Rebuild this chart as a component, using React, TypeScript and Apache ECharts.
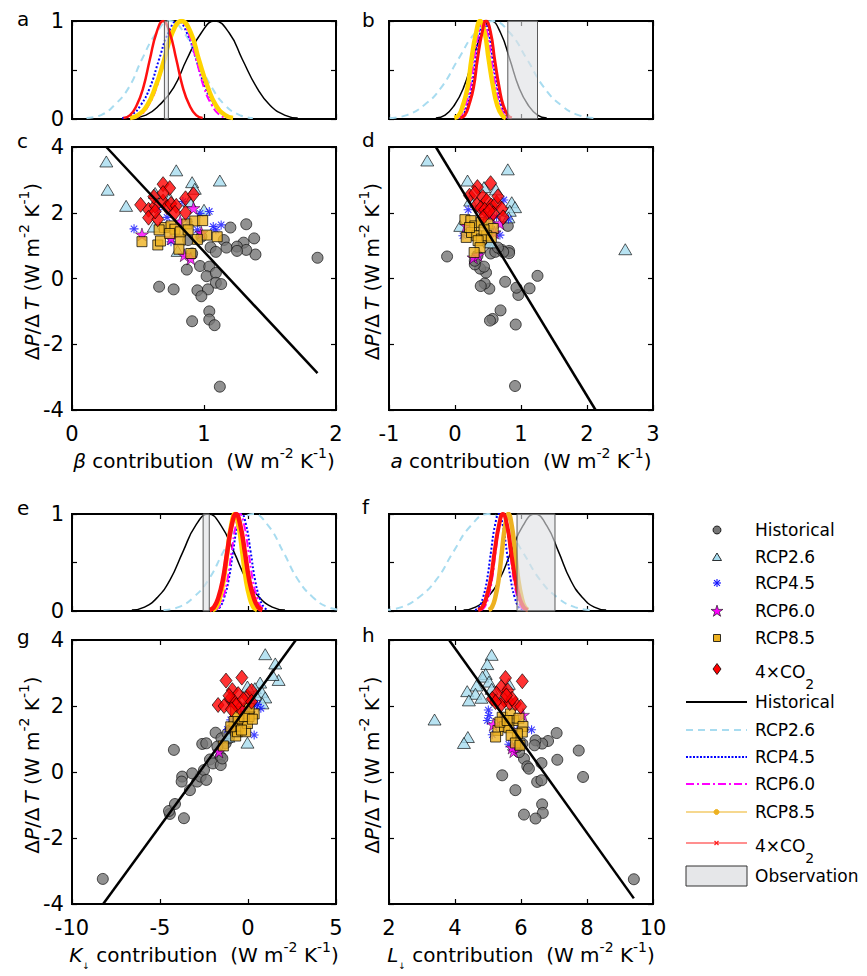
import React, { useEffect, useRef } from 'react';
import * as echarts from 'echarts';

const FONT = 'DejaVu Sans';

// ---------------- labels ----------------
const scenarioNames = ['Historical', 'RCP2.6', 'RCP4.5', 'RCP6.0', 'RCP8.5', '4×CO2'];
const observationName = 'Observation';
const panelLetters = ['a', 'b', 'c', 'd', 'e', 'f', 'g', 'h'];

// axis ranges [min, max, interval]
const betaRange = [0, 2, 1];
const aRange = [-1, 3, 1];
const kRange = [-10, 5, 5];
const lRange = [2, 10, 2];
const dpdtRange = [-4, 4, 2];
const densityRange = [0, 1, 0.5];

// ---------------- density curves (peak-normalised) ----------------
// heights at which each curve's x-crossings were read
const densityLevels = [0.01, 0.04, 0.14, 0.32, 0.61, 0.88, 1, 0.88, 0.61, 0.32, 0.14, 0.04, 0.01];

const aHistorical = [0.45, 0.56, 0.66, 0.77, 0.87, 0.98, 1.08, 1.19, 1.29, 1.4, 1.5, 1.61, 1.71];
const aRCP26 = [0.11, 0.22, 0.32, 0.43, 0.53, 0.64, 0.74, 0.85, 0.95, 1.06, 1.16, 1.27, 1.37];
const aRCP45 = [0.38, 0.45, 0.52, 0.59, 0.66, 0.73, 0.8, 0.87, 0.94, 1.01, 1.08, 1.15, 1.22];
const aRCP60 = [0.46, 0.52, 0.58, 0.64, 0.7, 0.76, 0.82, 0.88, 0.94, 1.0, 1.06, 1.12, 1.18];
const aRCP85 = [0.44, 0.5, 0.57, 0.63, 0.7, 0.76, 0.83, 0.9, 0.96, 1.03, 1.09, 1.16, 1.22];
const aCO2 = [0.39, 0.44, 0.49, 0.54, 0.59, 0.64, 0.69, 0.74, 0.79, 0.84, 0.89, 0.94, 0.99];
const aObservation = [0.7, 0.73];

const bHistorical = [-0.29, -0.15, -0.01, 0.13, 0.27, 0.41, 0.55, 0.69, 0.83, 0.97, 1.11, 1.25, 1.39];
const bRCP26 = [-0.99, -0.73, -0.47, -0.21, 0.05, 0.31, 0.57, 0.83, 1.09, 1.35, 1.61, 1.87, 2.13];
const bRCP45 = [0.05, 0.12, 0.18, 0.25, 0.31, 0.38, 0.44, 0.51, 0.57, 0.64, 0.7, 0.77, 0.83];
const bRCP60 = [0.03, 0.1, 0.16, 0.23, 0.29, 0.36, 0.42, 0.49, 0.55, 0.62, 0.68, 0.75, 0.81];
const bRCP85 = [-0.01, 0.06, 0.12, 0.19, 0.25, 0.32, 0.38, 0.45, 0.51, 0.58, 0.64, 0.71, 0.77];
const bCO2 = [0.08, 0.15, 0.21, 0.28, 0.34, 0.41, 0.47, 0.54, 0.6, 0.67, 0.73, 0.8, 0.86];
const bObservation = [0.8, 1.25];

const eHistorical = [-6.6, -5.88, -5.15, -4.43, -3.7, -2.98, -2.25, -1.53, -0.8, -0.08, 0.65, 1.38, 2.1];
const eRCP26 = [-4.8, -3.95, -3.1, -2.25, -1.4, -0.55, 0.3, 1.15, 2.0, 2.85, 3.7, 4.55, 5.4];
const eRCP45 = [-1.85, -1.6, -1.35, -1.1, -0.85, -0.6, -0.35, -0.1, 0.15, 0.4, 0.65, 0.9, 1.15];
const eRCP60 = [-1.89, -1.65, -1.41, -1.17, -0.93, -0.69, -0.45, -0.21, 0.03, 0.27, 0.51, 0.75, 0.99];
const eRCP85 = [-2.01, -1.8, -1.59, -1.38, -1.17, -0.96, -0.75, -0.54, -0.33, -0.12, 0.09, 0.3, 0.51];
const eCO2 = [-2.18, -1.93, -1.68, -1.43, -1.18, -0.93, -0.68, -0.43, -0.18, 0.07, 0.32, 0.57, 0.82];
const eObservation = [-2.55, -2.2];

const fHistorical = [4.26, 4.62, 4.98, 5.34, 5.7, 6.06, 6.42, 6.78, 7.14, 7.5, 7.86, 8.22, 8.58];
const fRCP26 = [1.85, 2.38, 2.9, 3.43, 3.95, 4.48, 5.0, 5.53, 6.05, 6.58, 7.1, 7.63, 8.15];
const fRCP45 = [4.61, 4.73, 4.85, 4.97, 5.09, 5.21, 5.33, 5.45, 5.57, 5.69, 5.81, 5.93, 6.05];
const fRCP60 = [4.79, 4.9, 5.01, 5.12, 5.23, 5.34, 5.45, 5.56, 5.67, 5.78, 5.89, 6.0, 6.11];
const fRCP85 = [5.02, 5.12, 5.22, 5.32, 5.42, 5.52, 5.62, 5.72, 5.82, 5.92, 6.02, 6.12, 6.22];
const fCO2 = [4.7, 4.83, 4.95, 5.08, 5.2, 5.33, 5.45, 5.58, 5.7, 5.83, 5.95, 6.08, 6.2];
const fObservation = [5.88, 7.03];

// ---------------- scatter: [contribution, ΔP/ΔT] ----------------
const cHistorical = [[1.86, 0.63], [1.2, 1.55], [1.32, 1.65], [1.38, 1.22], [1.39, 0.73], [1.3, 1.09], [1.25, 0.97], [1.32, 0.87], [1.25, 0.84], [1.15, 1.17], [1.17, 0.94], [1.05, 0.95], [1.09, 0.81], [0.97, 0.38], [1.04, 0.36], [0.87, 0.27], [1.02, 0.07], [1.09, 0.17], [1.09, -0.13], [1.13, -0.17], [0.95, -0.36], [1.03, -0.33], [0.98, -0.54], [0.66, -0.25], [0.77, -0.33], [1.04, -1.0], [1.04, -1.25], [1.08, -1.42], [0.91, -1.3], [1.12, -3.29], [0.91, 0.76], [0.88, 1.17], [0.98, 1.27]];
const cRCP26 = [[0.26, 3.56], [0.27, 2.7], [0.41, 2.21], [0.79, 3.29], [0.91, 2.93], [1.12, 2.98], [0.93, 2.73], [0.62, 1.58], [0.63, 2.6], [0.74, 2.44], [0.89, 2.34], [1.0, 2.09], [0.8, 0.84]];
const cRCP45 = [[0.47, 1.51], [0.75, 1.12], [0.84, 2.34], [0.97, 1.98], [1.04, 2.04], [1.13, 1.63], [1.07, 1.58], [1.09, 1.48], [0.95, 1.48], [0.72, 1.86], [0.65, 2.09], [0.88, 1.73]];
const cRCP60 = [[0.53, 1.34], [0.9, 0.61], [0.85, 0.71], [0.92, 2.14], [0.75, 1.22], [0.82, 1.73], [0.98, 1.39]];
const cRCP85 = [[0.53, 1.12], [0.65, 1.02], [0.67, 1.14], [0.7, 1.55], [0.75, 1.6], [0.78, 1.5], [0.74, 1.37], [0.82, 1.17], [0.82, 1.42], [0.87, 1.66], [0.93, 1.75], [0.99, 1.76], [1.02, 1.32], [0.95, 1.19], [1.1, 1.27], [0.81, 0.89], [0.9, 0.76], [0.66, 1.48], [0.88, 1.48]];
const cCO2 = [[0.52, 2.24], [0.58, 2.09], [0.58, 1.85], [0.63, 2.21], [0.62, 2.49], [0.65, 1.8], [0.63, 2.04], [0.69, 2.87], [0.74, 2.75], [0.69, 2.34], [0.72, 2.17], [0.75, 2.27], [0.79, 2.21], [0.78, 2.0], [0.86, 2.44], [0.92, 2.56], [0.86, 2.0], [0.69, 2.6]];
const cFit = [[0.26, 4.0], [1.86, -2.88]];

const dHistorical = [[-0.12, 0.67], [1.25, 0.08], [1.13, -0.3], [0.96, -0.5], [0.93, -0.28], [0.76, -0.1], [0.52, -0.31], [0.45, -0.15], [0.39, -0.23], [0.47, 0.18], [0.38, 0.3], [0.44, 0.36], [0.3, 0.43], [0.69, -0.97], [0.57, -1.23], [0.53, -1.28], [0.92, -1.4], [0.91, -3.27], [0.54, 0.76], [0.61, 0.81], [0.71, 0.87], [0.82, 0.84], [0.82, 0.77], [0.73, 0.81], [0.65, 0.94], [0.8, 1.6], [0.34, 0.69], [0.3, 0.54], [0.48, 1.1]];
const dRCP26 = [[-0.42, 3.59], [2.58, 0.89], [0.8, 3.32], [0.19, 2.98], [0.44, 2.78], [0.62, 2.71], [0.86, 2.32], [0.91, 2.17], [0.83, 2.06], [0.08, 1.6], [0.53, 1.1], [0.23, 2.37], [0.81, 1.86]];
const dRCP45 = [[0.74, 2.39], [0.2, 2.09], [0.63, 1.88], [0.12, 1.3], [0.68, 1.32], [0.81, 1.81], [0.38, 2.12], [0.52, 1.5]];
const dRCP60 = [[0.68, 1.68], [0.28, 0.64], [0.35, 0.71], [0.17, 1.61], [0.6, 1.4], [0.55, 1.86]];
const dRCP85 = [[0.15, 1.79], [0.24, 1.76], [0.3, 1.6], [0.4, 1.71], [0.5, 1.66], [0.58, 1.52], [0.17, 1.25], [0.25, 1.4], [0.33, 1.3], [0.4, 1.2], [0.48, 1.3], [0.55, 1.25], [0.35, 1.15], [0.38, 0.94], [0.29, 0.79], [0.44, 1.48], [0.22, 1.55]];
const dCO2 = [[0.54, 2.9], [0.34, 2.78], [0.22, 2.52], [0.3, 2.6], [0.42, 2.48], [0.48, 2.37], [0.55, 2.22], [0.63, 2.3], [0.33, 2.24], [0.39, 2.14], [0.45, 2.09], [0.58, 1.98], [0.71, 2.12], [0.73, 1.86], [0.44, 1.89], [0.52, 2.06], [0.65, 2.5]];
const dFit = [[-0.29, 4.0], [2.13, -4.0]];

const gHistorical = [[-8.25, -3.24], [-4.44, -1.27], [-4.49, -1.18], [-4.15, -0.97], [-3.64, -1.4], [-4.21, 0.67], [-3.74, -0.14], [-3.77, -0.29], [-3.3, -0.55], [-2.88, -0.29], [-2.69, -0.14], [-2.5, 0.06], [-2.37, -0.24], [-2.6, 0.85], [-2.37, 0.87], [-2.16, 0.38], [-1.99, 0.26], [-1.84, 1.19], [-1.55, 0.46], [-1.55, 0.21], [-1.46, 0.41], [-1.27, 0.87], [-1.51, 1.02], [-1.08, 1.02], [-0.98, 1.27], [-0.79, 1.32], [-1.17, 1.17], [-0.64, 1.44], [-1.74, 0.77], [-3.17, -0.04]];
const gRCP26 = [[0.98, 3.57], [1.55, 3.29], [1.74, 2.79], [1.39, 2.94], [0.69, 2.71], [0.39, 2.54], [0.78, 2.43], [0.44, 2.33], [0.98, 2.26], [-0.03, 0.89], [-1.12, 1.07], [-0.03, 2.59], [0.82, 2.08]];
const gRCP45 = [[-1.17, 1.29], [0.35, 1.12], [0.54, 2.05], [0.73, 1.93], [0.35, 2.03], [-0.03, 1.98], [-0.41, 1.78], [-0.98, 1.58]];
const gRCP60 = [[-1.65, 0.62], [-0.51, 1.58], [-0.79, 1.37], [-0.22, 1.93], [0.06, 1.78]];
const gRCP85 = [[-1.4, 0.79], [-0.7, 1.09], [-0.6, 1.22], [-0.51, 1.39], [-0.79, 1.53], [-0.32, 1.58], [-0.13, 1.22], [-0.03, 1.47], [0.35, 1.76], [-0.37, 1.27], [-0.98, 1.37], [0.06, 1.68], [-0.56, 1.63], [-0.22, 1.68], [0.25, 1.6], [-0.7, 1.83], [0.06, 1.93]];
const gCO2 = [[-1.7, 2.03], [-1.25, 2.77], [-0.35, 2.86], [-0.89, 2.48], [-0.56, 2.36], [-1.02, 2.2], [-1.36, 2.0], [-0.79, 2.13], [-0.45, 1.93], [-0.03, 2.28], [0.2, 2.46], [-1.08, 2.31], [-0.66, 2.03], [-0.26, 2.2], [0.2, 2.13], [-0.94, 1.9]];
const gFit = [[-8.23, -4.0], [2.72, 4.0]];

const hHistorical = [[9.42, -3.25], [7.75, 0.65], [7.88, -0.15], [7.08, 1.18], [7.1, 0.37], [6.82, 0.94], [6.64, 0.86], [6.44, 0.96], [6.41, 0.81], [6.62, 0.27], [6.09, 0.4], [6.19, 0.17], [6.49, -0.3], [6.62, -0.25], [5.43, -0.1], [5.83, -0.55], [6.64, -0.98], [6.66, -1.24], [6.09, -1.29], [6.44, -1.41], [6.24, 0.1], [5.94, 0.6], [5.89, 0.76], [6.04, 0.86]];
const hRCP26 = [[5.11, 3.55], [4.98, 3.27], [4.93, 2.97], [4.83, 2.89], [5.03, 2.74], [4.65, 2.62], [4.37, 2.45], [4.62, 2.37], [4.42, 2.17], [4.8, 2.25], [3.38, 1.59], [4.39, 1.06], [4.27, 0.88], [5.11, 2.52], [5.63, 2.67]];
const hRCP45 = [[5.13, 1.13], [5.01, 1.88], [4.98, 1.56], [6.32, 1.28], [5.03, 1.71], [5.63, 0.84], [5.88, 1.26]];
const hRCP60 = [[6.06, 1.73], [5.16, 1.44], [5.78, 0.63], [5.73, 0.74], [5.38, 1.56]];
const hRCP85 = [[5.3, 1.26], [5.43, 1.66], [5.5, 1.38], [5.68, 1.76], [5.78, 1.56], [5.94, 1.63], [6.06, 1.38], [6.04, 1.21], [5.89, 1.16], [5.63, 1.34], [5.7, 1.11], [5.36, 1.51], [5.58, 1.56], [5.83, 0.88], [5.97, 0.81], [5.23, 1.06]];
const hCO2 = [[5.53, 2.85], [6.04, 2.75], [5.4, 2.57], [5.6, 2.47], [5.26, 2.37], [5.13, 2.22], [5.5, 2.17], [5.66, 2.09], [5.83, 2.07], [5.99, 1.98], [5.38, 2.02], [5.23, 2.12], [5.73, 2.22], [5.56, 2.32]];
const hFit = [[3.82, 4.0], [9.42, -3.83]];

// ---------------- styles / layout ----------------
const ASTERISK = 'path://M5,0L5,10M0,5L10,5M1.46,1.46L8.54,8.54M1.46,8.54L8.54,1.46';
const STAR_PTS = [[10, 0], [12.245, 6.91], [19.511, 6.91], [13.633, 11.18], [15.878, 18.09], [10, 13.82], [4.122, 18.09], [6.367, 11.18], [0.489, 6.91], [7.755, 6.91]];
const STAR = 'path://M' + STAR_PTS.map((p) => p.join(',')).join('L') + 'Z';

const C_HIST = '#767676';
const C_R26 = '#A6DCEF';
const C_R45 = '#1010FF';
const C_R60 = '#FF00FF';
const C_R85 = '#EDB120';
const C_CO2 = '#FF0000';

const scatterLooks = [
  { symbol: 'circle', symbolSize: 11, itemStyle: { color: C_HIST, borderColor: '#111', borderWidth: 0.9 } },
  { symbol: 'triangle', symbolSize: [13, 11], itemStyle: { color: C_R26, borderColor: '#000', borderWidth: 0.8 } },
  { symbol: ASTERISK, symbolSize: 9, itemStyle: { color: 'rgba(0,0,0,0)', borderColor: C_R45, borderWidth: 1.1 } },
  { symbol: STAR, symbolSize: 13, itemStyle: { color: C_R60, borderColor: '#000', borderWidth: 0.6 } },
  { symbol: 'rect', symbolSize: 10, itemStyle: { color: C_R85, borderColor: '#000', borderWidth: 0.9 } },
  { symbol: 'diamond', symbolSize: [12, 15], itemStyle: { color: C_CO2, borderColor: '#000', borderWidth: 0.8 } },
];

const densityLook = (rcp85Color: string, co2Width: number) => [
  { color: '#000', width: 1.5, type: 'solid' },
  { color: '#A8DCF0', width: 2, type: [7, 5] },
  { color: '#0000FF', width: 2, type: [2, 2] },
  { color: '#FF00FF', width: 2, type: [8, 3, 2, 3] },
  { color: rcp85Color, width: 4.5, type: 'solid' },
  { color: '#FF1010', width: co2Width, type: 'solid' },
];

const gridBoxes = [
  [72, 21, 264, 98], [389, 21, 264, 98],
  [72, 147, 264, 263], [389, 147, 264, 263],
  [72, 514, 264, 97], [389, 514, 264, 97],
  [72, 640, 264, 264], [389, 640, 264, 264],
];
const letterPos = [[17, 29], [362, 30], [17, 151], [362, 150], [17, 518], [362, 517], [17, 647], [362, 645]];

const nameRich = {
  n: { fontFamily: FONT, fontSize: 20, lineHeight: 30, color: '#000' },
  i: { fontFamily: FONT, fontSize: 20, lineHeight: 30, fontStyle: 'italic', color: '#000' },
  p: { fontFamily: FONT, fontSize: 14, lineHeight: 8, verticalAlign: 'top', color: '#000' },
  d: { fontFamily: FONT, fontSize: 9, lineHeight: 6, verticalAlign: 'bottom', color: '#000' },
};
const unitsRich = '{n|  (W m}{p|-2}{n| K}{p|-1}{n|)}';
const yTitle = '{n|Δ}{i|P}{n|/Δ\u2009}{i|T}{n| (W m}{p|-2}{n| K}{p|-1}{n|)}';
const xTitles = {
  c: '{i|β}{n| contribution}' + unitsRich,
  d: '{i|a}{n| contribution}' + unitsRich,
  g: '{i|K}{d|↓}{n| contribution}' + unitsRich,
  h: '{i|L}{d|↓}{n| contribution}' + unitsRich,
};

type Panel = {
  kind: 'density' | 'scatter';
  xr: number[];
  yLabels: boolean;
  curves?: number[][];
  obs?: number[];
  rcp85Color?: string;
  co2Width?: number;
  points?: number[][][];
  fit?: number[][];
  xName?: string;
};

const panels: Panel[] = [
  { kind: 'density', xr: betaRange, yLabels: true, curves: [aHistorical, aRCP26, aRCP45, aRCP60, aRCP85, aCO2], obs: aObservation, rcp85Color: '#FFD400', co2Width: 2.5 },
  { kind: 'density', xr: aRange, yLabels: false, curves: [bHistorical, bRCP26, bRCP45, bRCP60, bRCP85, bCO2], obs: bObservation, rcp85Color: '#FFD400', co2Width: 3 },
  { kind: 'scatter', xr: betaRange, yLabels: true, points: [cHistorical, cRCP26, cRCP45, cRCP60, cRCP85, cCO2], fit: cFit, xName: xTitles.c },
  { kind: 'scatter', xr: aRange, yLabels: false, points: [dHistorical, dRCP26, dRCP45, dRCP60, dRCP85, dCO2], fit: dFit, xName: xTitles.d },
  { kind: 'density', xr: kRange, yLabels: true, curves: [eHistorical, eRCP26, eRCP45, eRCP60, eRCP85, eCO2], obs: eObservation, rcp85Color: '#FFD400', co2Width: 4.5 },
  { kind: 'density', xr: lRange, yLabels: false, curves: [fHistorical, fRCP26, fRCP45, fRCP60, fRCP85, fCO2], obs: fObservation, rcp85Color: '#EDB120', co2Width: 4 },
  { kind: 'scatter', xr: kRange, yLabels: true, points: [gHistorical, gRCP26, gRCP45, gRCP60, gRCP85, gCO2], fit: gFit, xName: xTitles.g },
  { kind: 'scatter', xr: lRange, yLabels: false, points: [hHistorical, hRCP26, hRCP45, hRCP60, hRCP85, hCO2], fit: hFit, xName: xTitles.h },
];

const tick = { show: true, inside: true, length: 5, lineStyle: { color: '#000', width: 1.2 } };
const labelStyle = { fontFamily: FONT, fontSize: 21, color: '#000' };

function buildOption() {
  const grid: any[] = [];
  const xAxis: any[] = [];
  const yAxis: any[] = [];
  const series: any[] = [];

  panels.forEach((p, gi) => {
    const [left, top, width, height] = gridBoxes[gi];
    grid.push({ left, top, width, height, show: true, borderColor: '#000', borderWidth: 2, backgroundColor: 'transparent', containLabel: false, outerBoundsMode: 'none' });
    const yr = p.kind === 'density' ? densityRange : dpdtRange;
    const common = { type: 'value', gridIndex: gi, splitLine: { show: false }, axisLine: { show: false, onZero: false } };
    xAxis.push({
      ...common, position: 'bottom', min: p.xr[0], max: p.xr[1], interval: p.xr[2], axisTick: tick,
      axisLabel: { show: p.kind === 'scatter', margin: 13, showMinLabel: true, showMaxLabel: true, ...labelStyle },
      name: p.xName || '', nameLocation: 'middle', nameGap: 36, nameMoveOverlap: false,
      nameTextStyle: { rich: nameRich, fontFamily: FONT, fontSize: 20, color: '#000' },
    });
    xAxis.push({ ...common, position: 'top', min: p.xr[0], max: p.xr[1], interval: p.xr[2], axisTick: tick, axisLabel: { show: false } });
    yAxis.push({
      ...common, position: 'left', min: yr[0], max: yr[1], interval: yr[2], axisTick: tick,
      axisLabel: {
        show: p.yLabels, margin: 8, showMinLabel: true, showMaxLabel: true, ...labelStyle,
        formatter: (v: number) => (p.kind === 'density' && v !== 0 && v !== 1 ? '' : String(v)),
      },
      name: p.kind === 'scatter' ? yTitle : '', nameLocation: 'middle', nameRotate: 90,
      nameGap: p.yLabels ? 25 : 2, nameMoveOverlap: false,
      nameTextStyle: { rich: nameRich, fontFamily: FONT, fontSize: 20, color: '#000', padding: [0, 0, 0, 14] },
    });
    yAxis.push({ ...common, position: 'right', min: yr[0], max: yr[1], interval: yr[2], axisTick: tick, axisLabel: { show: false } });

    const xi = gi * 2;
    if (p.kind === 'density') {
      const looks = densityLook(p.rcp85Color!, p.co2Width!);
      p.curves!.forEach((xs, k) => {
        series.push({
          type: 'line', name: scenarioNames[k], xAxisIndex: xi, yAxisIndex: xi, smooth: true,
          symbol: 'none', showSymbol: false, silent: true, z: 2 + k, clip: true,
          data: xs.map((x, j) => [x, densityLevels[j]]),
          lineStyle: looks[k],
        });
      });
      series.push({
        type: 'custom', name: observationName, xAxisIndex: xi, yAxisIndex: xi, silent: true, z: 20,
        encode: { x: [0, 1] },
        data: [[p.obs![0], p.obs![1]]],
        renderItem: (_params: any, api: any) => {
          const a = api.coord([api.value(0), 1]);
          const b = api.coord([api.value(1), 0]);
          return {
            type: 'rect',
            shape: { x: a[0], y: a[1], width: b[0] - a[0], height: b[1] - a[1] },
            style: { fill: 'rgba(222,224,228,0.62)', stroke: '#5a5a5a', lineWidth: 1 },
          };
        },
      });
    } else {
      p.points!.forEach((pts, k) => {
        series.push({
          type: 'scatter', name: scenarioNames[k], xAxisIndex: xi, yAxisIndex: xi, silent: true, z: 2 + k,
          data: pts, ...scatterLooks[k],
        });
      });
      series.push({
        type: 'line', name: 'fit', xAxisIndex: xi, yAxisIndex: xi, data: p.fit, symbol: 'none', showSymbol: false,
        silent: true, z: 10, lineStyle: { color: '#000', width: 2.5 },
      });
    }
  });

  // ---------- graphic: panel letters + legend ----------
  const graphic: any[] = [];
  panelLetters.forEach((l, i) => {
    graphic.push({ type: 'text', x: letterPos[i][0], y: letterPos[i][1], style: { text: l, fontFamily: FONT, fontSize: 20, fill: '#000', align: 'left', verticalAlign: 'bottom' } });
  });

  const mx = 717;
  const textX = 755;
  const markerRows = [530, 557, 583, 611, 638, 669];
  const lineRows = [702, 730, 757, 784, 812, 843];
  const obsRow = 876;
  const legendText = (label: string, y: number) => {
    if (label.indexOf('CO2') >= 0) {
      return {
        type: 'text', x: textX, y: y + 4,
        style: {
          text: '{m|4×CO}{s|2}', align: 'left', verticalAlign: 'middle', fill: '#000',
          rich: {
            m: { fontFamily: FONT, fontSize: 17, lineHeight: 20, verticalAlign: 'top', fill: '#000' },
            s: { fontFamily: FONT, fontSize: 14, lineHeight: 14, padding: [14, 0, 0, 0], verticalAlign: 'top', fill: '#000' },
          },
        },
      };
    }
    return { type: 'text', x: textX, y, style: { text: label, fontFamily: FONT, fontSize: 17, fill: '#000', align: 'left', verticalAlign: 'middle' } };
  };

  // marker legend
  graphic.push({ type: 'circle', shape: { cx: mx, cy: markerRows[0], r: 4 }, style: { fill: C_HIST, stroke: '#000', lineWidth: 0.8 } });
  graphic.push({ type: 'polygon', shape: { points: [[mx - 4.5, markerRows[1] + 3.5], [mx + 4.5, markerRows[1] + 3.5], [mx, markerRows[1] - 4]] }, style: { fill: C_R26, stroke: '#000', lineWidth: 0.8 } });
  const ay = markerRows[2];
  [[0, -4, 0, 4], [-4, 0, 4, 0], [-2.9, -2.9, 2.9, 2.9], [-2.9, 2.9, 2.9, -2.9]].forEach((s) => {
    graphic.push({ type: 'line', shape: { x1: mx + s[0], y1: ay + s[1], x2: mx + s[2], y2: ay + s[3] }, style: { stroke: C_R45, lineWidth: 1.1 } });
  });
  graphic.push({ type: 'polygon', shape: { points: STAR_PTS.map((q) => [mx + (q[0] - 10) * 0.62, markerRows[3] + (q[1] - 9.5) * 0.62]) }, style: { fill: C_R60, stroke: '#000', lineWidth: 0.6 } });
  graphic.push({ type: 'rect', shape: { x: mx - 3.5, y: markerRows[4] - 3.5, width: 7, height: 7 }, style: { fill: C_R85, stroke: '#000', lineWidth: 0.8 } });
  graphic.push({ type: 'polygon', shape: { points: [[mx, markerRows[5] - 5.5], [mx + 4, markerRows[5]], [mx, markerRows[5] + 5.5], [mx - 4, markerRows[5]]] }, style: { fill: C_CO2, stroke: '#000', lineWidth: 0.8 } });
  markerRows.forEach((y, k) => graphic.push(legendText(scenarioNames[k], y)));

  // line legend
  const lx1 = 686;
  const lx2 = 747;
  const lineLooks = [
    { stroke: '#000', lineWidth: 2 },
    { stroke: '#A8DCF0', lineWidth: 2, lineDash: [7, 5] },
    { stroke: '#0000FF', lineWidth: 2, lineDash: [2, 1.5] },
    { stroke: '#FF00FF', lineWidth: 2, lineDash: [8, 3, 2, 3] },
    { stroke: C_R85, lineWidth: 1.2 },
    { stroke: '#FF2020', lineWidth: 1.2 },
  ];
  lineRows.forEach((y, k) => {
    graphic.push({ type: 'line', shape: { x1: lx1, y1: y, x2: lx2, y2: y }, style: lineLooks[k] });
    graphic.push(legendText(scenarioNames[k], y));
  });
  graphic.push({ type: 'circle', shape: { cx: 716.5, cy: lineRows[4], r: 2.5 }, style: { fill: C_R85, stroke: C_R85 } });
  graphic.push({ type: 'line', shape: { x1: 714.5, y1: lineRows[5] - 2, x2: 718.5, y2: lineRows[5] + 2 }, style: { stroke: '#FF2020', lineWidth: 1.2 } });
  graphic.push({ type: 'line', shape: { x1: 714.5, y1: lineRows[5] + 2, x2: 718.5, y2: lineRows[5] - 2 }, style: { stroke: '#FF2020', lineWidth: 1.2 } });
  graphic.push({ type: 'rect', shape: { x: lx1, y: obsRow - 10, width: lx2 - lx1, height: 20 }, style: { fill: '#E6E7E9', stroke: '#333', lineWidth: 1 } });
  graphic.push(legendText(observationName, obsRow));

  return {
    animation: false,
    backgroundColor: '#ffffff',
    textStyle: { fontFamily: FONT },
    grid, xAxis, yAxis, series, graphic,
  };
}

export default function App() {
  const ref = useRef<HTMLDivElement>(null);
  useEffect(() => {
    if (!ref.current) return;
    const chart = echarts.init(ref.current, undefined, { renderer: 'svg' });
    chart.setOption(buildOption() as any);
    return () => chart.dispose();
  }, []);
  return <div ref={ref} style={{ position: 'absolute', left: 0, top: 0, width: 867, height: 976 }} />;
}
